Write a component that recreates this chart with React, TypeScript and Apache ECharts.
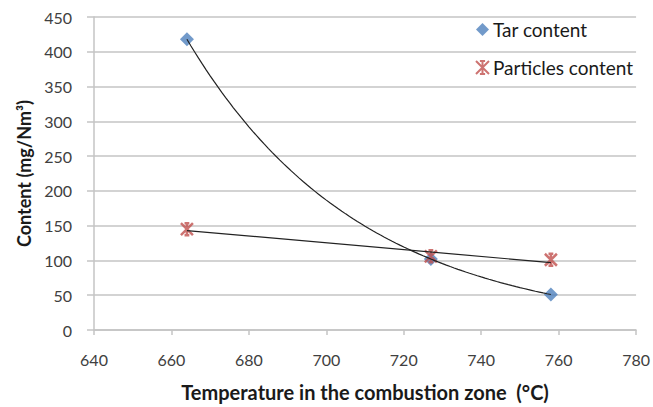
import React, { useEffect, useRef } from "react";
import * as echarts from "echarts";

const temperatures = [664, 727, 758];
const tarValues = [418, 102, 51];
const particleValues = [145, 106, 101];
const xTicks = [640, 660, 680, 700, 720, 740, 760, 780];
const yTicks = [0, 50, 100, 150, 200, 250, 300, 350, 400, 450];

const STAR =
  "path://M0,0 L10,10 M10,0 L0,10 M5,0 L5,10 M3,0 L7,0 M3,10 L7,10";

function expFit(xs: number[], ys: number[]) {
  const ly = ys.map((v) => Math.log(v));
  const n = xs.length;
  const mx = xs.reduce((a, b) => a + b, 0) / n;
  const my = ly.reduce((a, b) => a + b, 0) / n;
  let sxy = 0, sxx = 0;
  for (let i = 0; i < n; i++) {
    sxy += (xs[i] - mx) * (ly[i] - my);
    sxx += (xs[i] - mx) * (xs[i] - mx);
  }
  const b = sxy / sxx;
  const a = my - b * mx;
  return (x: number) => Math.exp(a + b * x);
}

function linFit(xs: number[], ys: number[]) {
  const n = xs.length;
  const mx = xs.reduce((a, b) => a + b, 0) / n;
  const my = ys.reduce((a, b) => a + b, 0) / n;
  let sxy = 0, sxx = 0;
  for (let i = 0; i < n; i++) {
    sxy += (xs[i] - mx) * (ys[i] - my);
    sxx += (xs[i] - mx) * (xs[i] - mx);
  }
  const b = sxy / sxx;
  const a = my - b * mx;
  return (x: number) => a + b * x;
}

export default function App() {
  const ref = useRef<HTMLDivElement>(null);
  useEffect(() => {
    if (!ref.current) return;
    const chart = echarts.init(ref.current, null, { renderer: "svg" });
    const xMin = temperatures[0];
    const xMax = temperatures[temperatures.length - 1];
    const tarF = expFit(temperatures, tarValues);
    const partF = linFit(temperatures, particleValues);
    const tarTrend: number[][] = [];
    for (let x = xMin; x <= xMax; x += 1) tarTrend.push([x, tarF(x)]);
    const partTrend = [
      [xMin, partF(xMin)],
      [xMax, partF(xMax)],
    ];
    const font = "Lato, 'Open Sans', sans-serif";
    chart.setOption({
      animation: false,
      grid: { left: 94, right: 16, top: 17, bottom: 74, containLabel: false },
      legend: {
        orient: "vertical",
        left: 470,
        top: 15,
        itemWidth: 13,
        itemHeight: 13,
        itemGap: 19,
        data: ["Tar content", "Particles content"],
        textStyle: { fontFamily: font, fontSize: 19, color: "#1a1a1a", padding: [0, 0, 0, -1] },
      },
      xAxis: {
        type: "value",
        min: xTicks[0],
        max: xTicks[xTicks.length - 1],
        interval: 20,
        name: "Temperature in the combustion zone  (°C)",
        nameLocation: "middle",
        nameGap: 52,
        nameTextStyle: { fontFamily: font, fontSize: 20, fontWeight: "bold", color: "#1a1a1a" },
        axisLine: { show: true, lineStyle: { color: "#c4c4c4", width: 1.5 } },
        axisTick: { show: true, length: 5, lineStyle: { color: "#c4c4c4", width: 1.5 } },
        axisLabel: { fontFamily: font, fontSize: 16, color: "#404040", margin: 21 },
        splitLine: { show: false },
      },
      yAxis: {
        type: "value",
        min: yTicks[0],
        max: yTicks[yTicks.length - 1],
        interval: 50,
        name: "Content (mg/Nm³)",
        nameLocation: "middle",
        nameGap: 60,
        nameTextStyle: { fontFamily: font, fontSize: 18, fontWeight: "bold", color: "#1a1a1a" },
        axisLine: { show: true, lineStyle: { color: "#c4c4c4", width: 1.5 } },
        axisTick: { show: true, inside: false, length: 7, lineStyle: { color: "#c4c4c4", width: 1.5 } },
        axisLabel: { fontFamily: font, fontSize: 16, color: "#404040", margin: 22 },
        splitLine: { show: true, lineStyle: { color: "#c4c4c4", width: 1.5 } },
      },
      series: [
        {
          name: "Tar content",
          type: "scatter",
          symbol: "diamond",
          symbolSize: 14,
          itemStyle: { color: "#4f81bd" },
          data: temperatures.map((t, i) => [t, tarValues[i]]),
          z: 2,
        },
        {
          name: "Particles content",
          type: "scatter",
          symbol: STAR,
          symbolSize: 12,
          itemStyle: { color: "transparent", borderColor: "#c0504d", borderWidth: 2.5 },
          data: temperatures.map((t, i) => [t, particleValues[i]]),
          z: 2,
        },
        {
          name: "Tar trend",
          type: "line",
          showSymbol: false,
          symbol: "none",
          data: tarTrend,
          lineStyle: { color: "#222", width: 1.2 },
          z: 3,
        },
        {
          name: "Particles trend",
          type: "line",
          showSymbol: false,
          symbol: "none",
          data: partTrend,
          lineStyle: { color: "#222", width: 1.2 },
          z: 3,
        },
      ],
    });
    return () => chart.dispose();
  }, []);
  return <div ref={ref} style={{ width: 653, height: 407, position: "absolute", left: 0, top: 0 }} />;
}
